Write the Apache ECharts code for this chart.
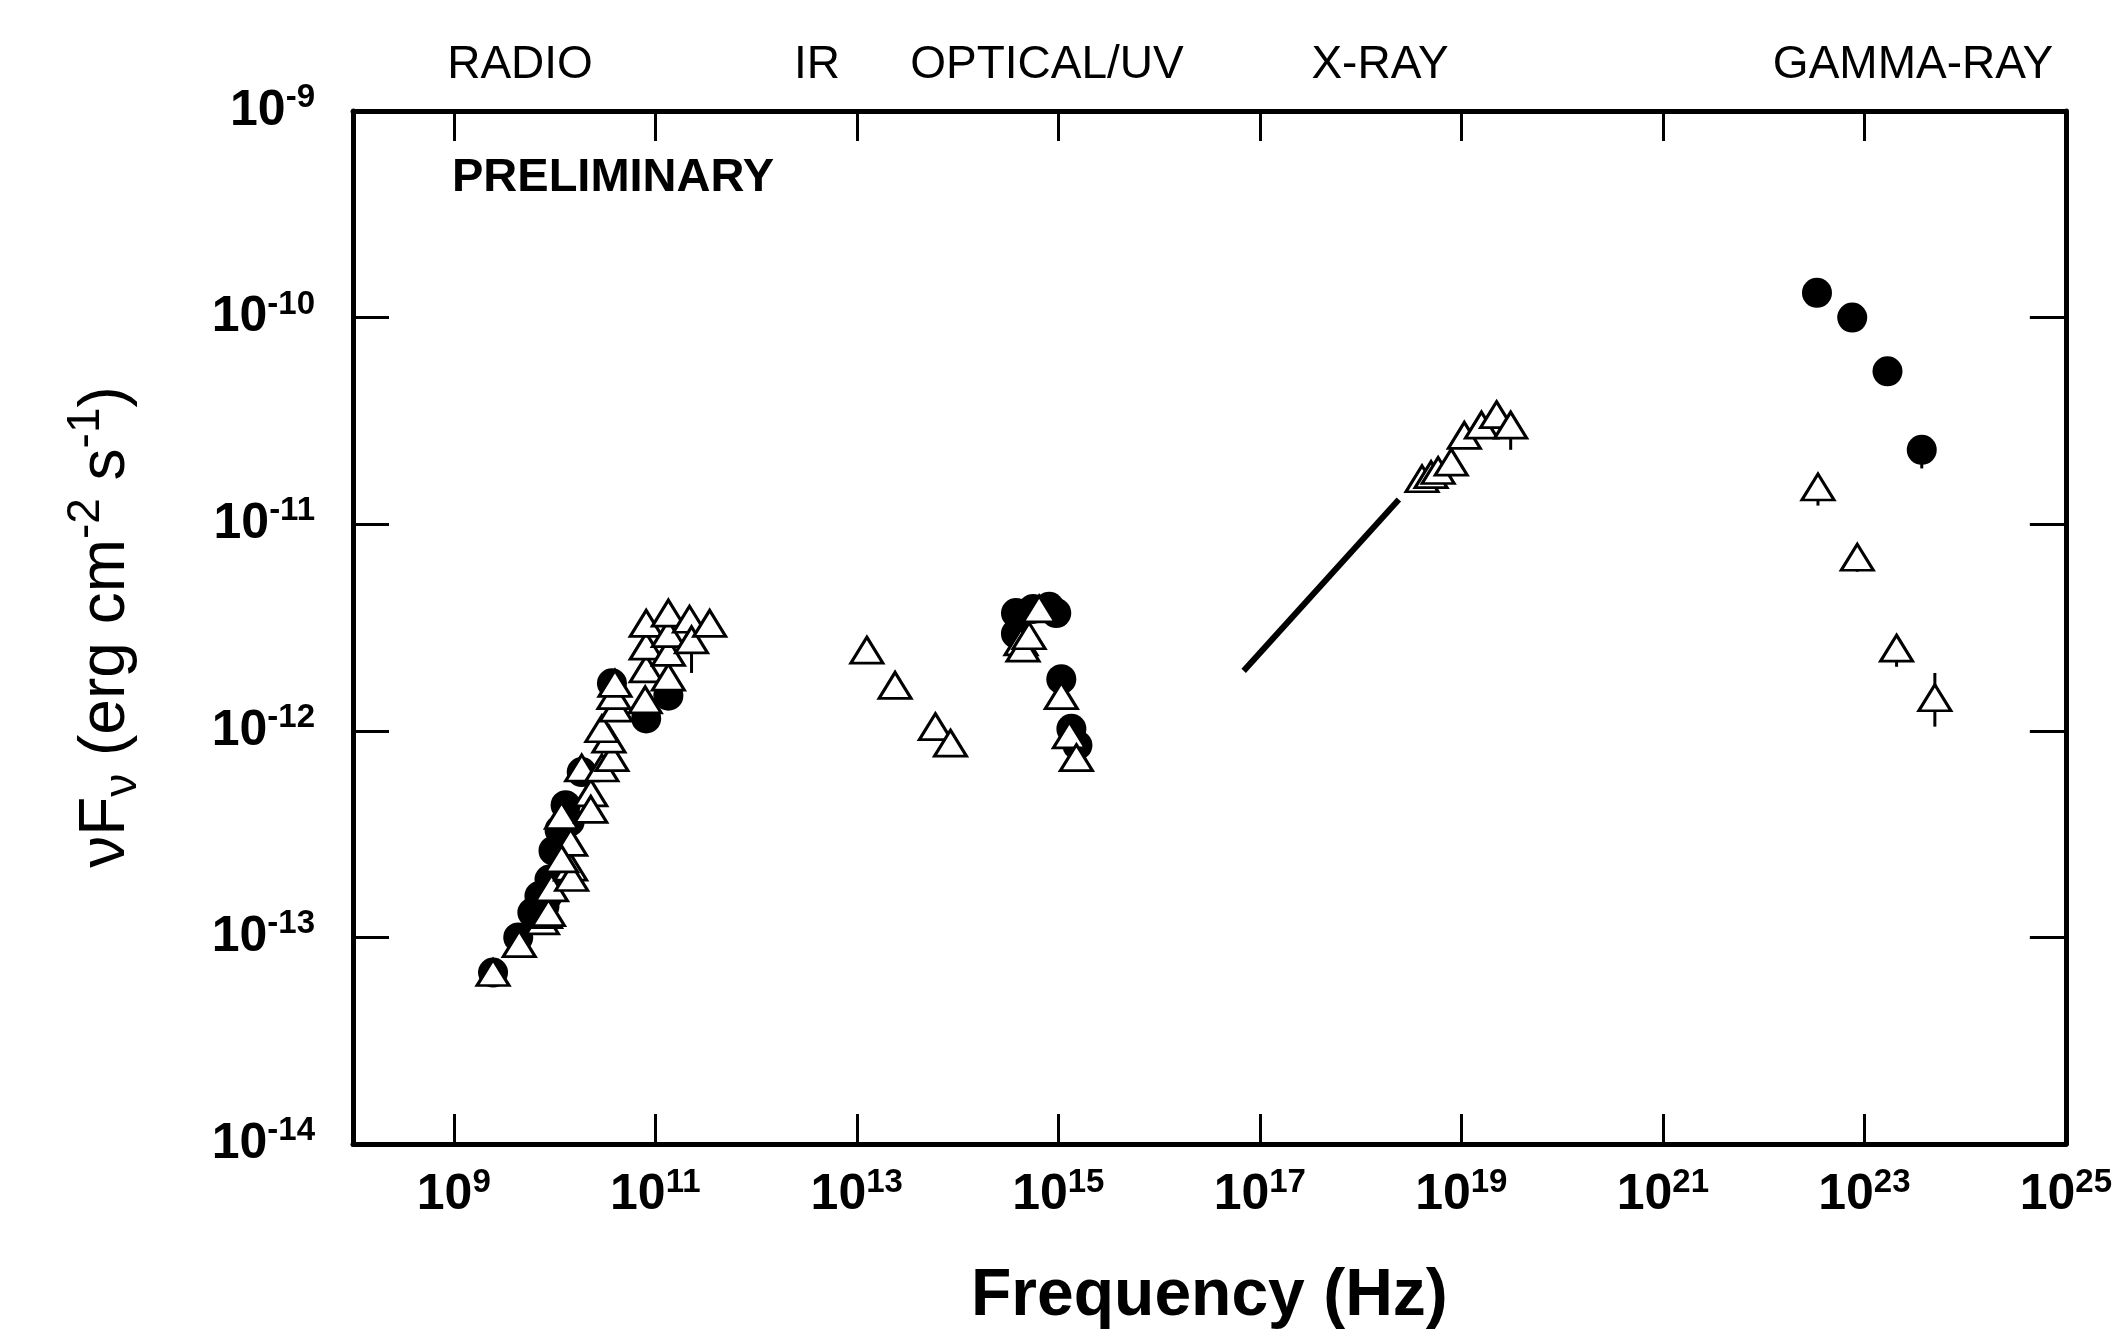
<!DOCTYPE html>
<html>
<head>
<meta charset="utf-8">
<title>SED</title>
<script src="https://cdn.jsdelivr.net/npm/echarts@6/dist/echarts.min.js"></script>
<style>
    html, body { margin: 0; padding: 0; background: #fff; }
    #chart { width: 2115px; height: 1335px; }
</style>
</head>
<body>
<div id="chart"></div>
<script>
// all values are log10: frequency in Hz, nuFnu in erg cm-2 s-1
// open triangles
var triNu = [9.39, 9.65, 9.88, 9.91, 9.94, 9.97, 10.16, 10.17, 10.16, 10.07, 10.07, 10.36, 10.36, 10.27, 10.47, 10.57, 10.54, 10.47, 10.61, 10.59, 10.60,
    10.90, 10.91, 10.91, 10.91, 11.13, 11.13, 11.13, 11.13, 11.34, 11.36, 11.54,
    13.10, 13.38, 13.78, 13.93,
    14.63, 14.65, 14.71, 14.81, 15.03, 15.11, 15.18,
    18.61, 18.70, 18.77, 18.90, 19.03, 19.20, 19.35, 19.49,
    22.54, 22.93, 23.32, 23.70];
var triFlux = [-13.17, -13.03, -12.92, -12.89, -12.88, -12.76, -12.66, -12.71, -12.54, -12.62, -12.41, -12.30, -12.38, -12.18, -12.18, -12.13, -12.04, -11.99, -11.89, -11.83, -11.77,
    -11.85, -11.70, -11.59, -11.48, -11.74, -11.62, -11.53, -11.43, -11.46, -11.56, -11.48,
    -11.61, -11.78, -11.98, -12.06,
    -11.57, -11.60, -11.54, -11.41, -11.83, -12.02, -12.13,
    -10.78, -10.76, -10.74, -10.70, -10.57, -10.52, -10.47, -10.52,
    -10.82, -11.16, -11.60, -11.84];
// filled circles
var dotNu = [9.39, 9.64, 9.78, 9.85, 9.90, 9.93, 9.95, 9.99, 10.05, 10.11, 10.15, 10.27, 10.57, 10.91, 11.13,
    14.58, 14.58, 14.75, 14.91, 14.98, 15.03, 15.13, 15.19,
    22.53, 22.88, 23.23, 23.57];
var dotFlux = [-13.17, -13.00, -12.88, -12.80, -12.85, -12.80, -12.72, -12.58, -12.48, -12.36, -12.44, -12.20, -11.77, -11.94, -11.83,
    -11.43, -11.53, -11.41, -11.40, -11.43, -11.75, -11.99, -12.07,
    -9.88, -10.00, -10.26, -10.64];
// X-ray power law
var xrayNu = [16.84, 18.38];
var xrayFlux = [-11.71, -10.88];
// vertical bars under the limits
var barNu = [11.36, 19.49, 22.54, 22.93, 23.32, 23.70, 23.57];
var barLo = [-11.72, -10.64, -10.91, -11.23, -11.69, -11.98, -10.73];
var barHi = [-11.56, -10.52, -10.82, -11.16, -11.60, -11.72, -10.64];

var xTickVals = [9, 11, 13, 15, 17, 19, 21, 23];
var xLabelVals = [9, 11, 13, 15, 17, 19, 21, 23, 25];

function pairs(a, b) {
    return a.map(function (v, i) { return [v, b[i]]; });
}

var FONT = 'Liberation Sans, Arial, sans-serif';
var supRich = {
    b: { fontFamily: FONT, fontWeight: 'bold', fontSize: 50, color: '#000' },
    s: { fontFamily: FONT, fontWeight: 'bold', fontSize: 33, color: '#000', padding: [0, 0, 26, 0] }
};
var bandStyle = function (txt) {
    return { text: txt, font: '46px ' + FONT, fill: '#000', align: 'center', verticalAlign: 'middle', textAlign: 'center', textVerticalAlign: 'middle' };
};

var myChart = echarts.init(document.getElementById('chart'));
var option = {
    animation: false,
    backgroundColor: '#fff',
    grid: { left: 353, right: 36, top: 111, bottom: 180 },
    xAxis: [
        {
            type: 'value', position: 'bottom', min: 8, max: 25,
            axisLine: { lineStyle: { color: '#000', width: 5 } },
            axisTick: { inside: true, length: 30, customValues: xTickVals, lineStyle: { color: '#000', width: 3 } },
            axisLabel: {
                customValues: xLabelVals, margin: 22,
                formatter: function (v) { return '{b|10}{s|' + v + '}'; },
                rich: supRich
            },
            splitLine: { show: false },
            name: 'Frequency (Hz)', nameLocation: 'middle', nameGap: 120,
            nameTextStyle: { fontFamily: FONT, fontWeight: 'bold', fontSize: 66, color: '#000' }
        },
        {
            type: 'value', position: 'top', min: 8, max: 25,
            axisLine: { lineStyle: { color: '#000', width: 5 } },
            axisTick: { inside: true, length: 30, customValues: xTickVals, lineStyle: { color: '#000', width: 3 } },
            axisLabel: { show: false },
            splitLine: { show: false }
        }
    ],
    yAxis: [
        {
            type: 'value', position: 'left', min: -14, max: -9, interval: 1,
            axisLine: { lineStyle: { color: '#000', width: 5 } },
            axisTick: { inside: true, length: 36, lineStyle: { color: '#000', width: 3 } },
            axisLabel: {
                margin: 38,
                formatter: function (v) { return '{b|10}{s|' + v + '}'; },
                rich: supRich
            },
            splitLine: { show: false }
        },
        {
            type: 'value', position: 'right', min: -14, max: -9, interval: 1,
            axisLine: { lineStyle: { color: '#000', width: 5 } },
            axisTick: { inside: true, length: 36, lineStyle: { color: '#000', width: 3 } },
            axisLabel: { show: false },
            splitLine: { show: false }
        }
    ],
    graphic: [
        // y axis title
        {
            type: 'text', x: 106, y: 627, rotation: Math.PI / 2,
            style: {
                text: '{a|\u03bdF}{sub|\u03bd}{a| (erg cm}{sup|-2}{a| s}{sup|-1}{a|)}',
                align: 'center', verticalAlign: 'middle',
                textAlign: 'center', textVerticalAlign: 'middle',
                rich: {
                    a: { fontFamily: FONT, fontSize: 64, fill: '#000', color: '#000' },
                    sub: { fontFamily: FONT, fontSize: 46, fill: '#000', color: '#000', padding: [34, 0, 0, 0] },
                    sup: { fontFamily: FONT, fontSize: 46, fill: '#000', color: '#000', padding: [0, 0, 40, 0] }
                }
            }
        },
        { type: 'text', x: 452, y: 178, style: { text: 'PRELIMINARY', font: 'bold 47px ' + FONT, fill: '#000', verticalAlign: 'middle', textVerticalAlign: 'middle' } },
        // band names along the top
        { type: 'text', x: 520, y: 65, style: bandStyle('RADIO') },
        { type: 'text', x: 817, y: 65, style: bandStyle('IR') },
        { type: 'text', x: 1047, y: 65, style: bandStyle('OPTICAL/UV') },
        { type: 'text', x: 1380, y: 65, style: bandStyle('X-RAY') },
        { type: 'text', x: 1913, y: 65, style: bandStyle('GAMMA-RAY') }
    ],
    series: [
        {
            type: 'custom', z: 1,
            data: barNu.map(function (v, i) { return [v, barLo[i], barHi[i]]; }),
            encode: { x: 0, y: [1, 2] },
            renderItem: function (params, api) {
                var p1 = api.coord([api.value(0), api.value(1)]);
                var p2 = api.coord([api.value(0), api.value(2)]);
                return {
                    type: 'line',
                    shape: { x1: p1[0], y1: p1[1], x2: p2[0], y2: p2[1] },
                    style: { stroke: '#000', lineWidth: 3 }
                };
            }
        },
        {
            type: 'line', z: 2,
            data: pairs(xrayNu, xrayFlux),
            showSymbol: false, symbol: 'none',
            lineStyle: { color: '#000', width: 6 }
        },
        {
            type: 'scatter', z: 3,
            data: pairs(dotNu, dotFlux),
            symbol: 'circle', symbolSize: 30,
            itemStyle: { color: '#000', opacity: 1 }
        },
        {
            type: 'scatter', z: 4,
            data: pairs(triNu, triFlux),
            symbol: 'triangle', symbolSize: [32, 26],
            itemStyle: { color: '#fff', borderColor: '#000', borderWidth: 3, opacity: 1 }
        }
    ]
};
myChart.setOption(option);
</script>
</body>
</html>
